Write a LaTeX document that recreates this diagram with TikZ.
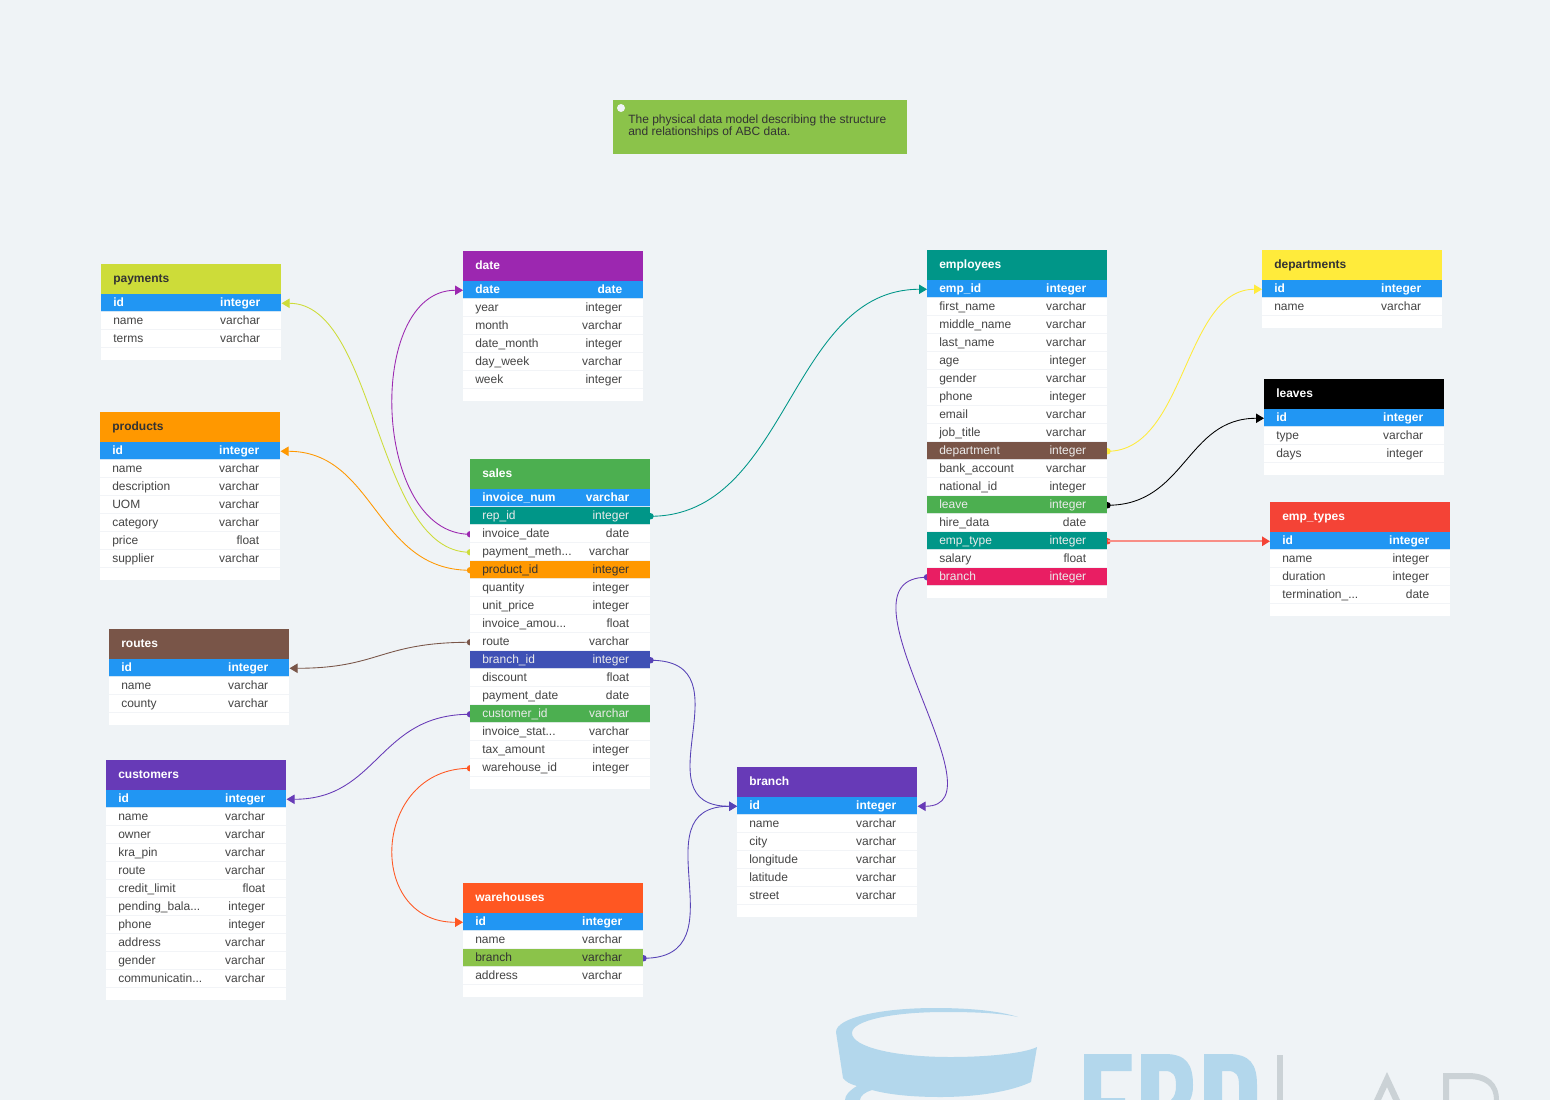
\documentclass[tikz,border=0pt]{standalone}
\usepackage{fontspec}
\setmainfont{Liberation Sans}
\usetikzlibrary{arrows.meta,calc}
\definecolor{bgc}{HTML}{EFF3F6}
\definecolor{ink}{HTML}{444444}
\definecolor{dark}{HTML}{333333}
\definecolor{sepc}{HTML}{F0F3F6}
\definecolor{logoblue}{HTML}{B3D7EC}
\definecolor{logogrey}{HTML}{CBD2D6}
\definecolor{cHdr}{HTML}{2196F3}
\definecolor{cTeal}{HTML}{009688}
\definecolor{cOrange}{HTML}{FF9800}
\definecolor{cIndigo}{HTML}{3F51B5}
\definecolor{cGreen}{HTML}{4CAF50}
\definecolor{cBrown}{HTML}{795548}
\definecolor{cPink}{HTML}{E91E63}
\definecolor{cLime}{HTML}{8BC34A}
\definecolor{cYLime}{HTML}{CDDC39}
\definecolor{cPurple}{HTML}{9C27B0}
\definecolor{cYellow}{HTML}{FFEB3B}
\definecolor{cRed}{HTML}{F44336}
\definecolor{cDPurple}{HTML}{673AB7}
\definecolor{cDOrange}{HTML}{FF5722}
\pgfdeclarelayer{under}
\pgfsetlayers{under,main}
\newcommand{\dd}{.\kern0pt.\kern0pt.}
\tikzset{
  x=0.75pt,y=-0.75pt,
  tabletitle/.style={anchor=north west,minimum width=135pt,minimum height=22.5pt,inner sep=0pt,font=\fontsize{9}{9}\selectfont\bfseries,text height=6.8pt,text depth=1.8pt},
  rowbox/.style={anchor=north west,minimum width=135pt,minimum height=13.5pt,inner sep=0pt,font=\fontsize{9}{9}\selectfont,text height=6pt,text depth=1.7pt},
  rp/.style={fill=white,text=ink},
  rh/.style={fill=cHdr,text=white,font=\fontsize{9}{9}\selectfont\bfseries},
  rteal/.style={fill=cTeal,text=white!92!black},
  rorange/.style={fill=cOrange,text=dark},
  rindigo/.style={fill=cIndigo,text=white!92!black},
  rgreen/.style={fill=cGreen,text=white!92!black},
  rbrown/.style={fill=cBrown,text=white!92!black},
  rpink/.style={fill=cPink,text=white!92!black},
  rlime/.style={fill=cLime,text=dark},
  sepline/.style={draw=sepc,line width=0.9pt,opacity=.85},
  conn/.style={line width=0.65pt,-{Triangle[length=6pt,width=7pt]}},
  paleconn/.style={draw=cRed!60,line width=1.4pt,-{Triangle[length=6pt,width=7pt,color=cRed]}},
}
% name, x, y, title, head colour, title colour, rows
\newcommand{\erdtable}[7]{%
  \node[tabletitle,fill=#5,text=#6] (#1-title) at (#2,#3) {\hbox to 135pt{\hspace{9pt}#4\hfill}};
  \foreach \rn/\rt/\rs [count=\ri] in {#7}{%
    \node[rowbox,style/.expanded=\rs] (#1-\ri) at ({#2},{#3+30+18*(\ri-1)}) {\hbox to 135pt{\hspace{9pt}\rn\hfill\rt\hspace{15.8pt}}};
    \draw[sepline] ([yshift=0.4pt]#1-\ri.south west) -- ([yshift=0.4pt]#1-\ri.south east);
    \xdef\lastrow{\ri}
  }
  \fill[white] ({#2},{#3+30+18*\lastrow}) rectangle ({#2+180},{#3+30+18*\lastrow+12});
}
% extra style, colour, start, start dx, end dx, end
\newcommand{\conn}[6][conn]{%
  \begin{pgfonlayer}{under}
    \fill[#2] (#3) circle (2.4pt);
    \draw[#2,#1] (#3) .. controls +(#4,0) and +(#5,0) .. (#6);
  \end{pgfonlayer}
}
\begin{document}
\begin{tikzpicture}
\useasboundingbox (0,0) rectangle (1550,1100);
\begin{pgfonlayer}{under}
  \fill[bgc] (0,0) rectangle (1550,1100);
  \begin{scope}
    \clip (0,0) rectangle (1550,1100);
    % logo: drum
    \fill[logoblue] (836,1032) .. controls (836,1018) and (880,1008) .. (935,1008)
      .. controls (970,1008) and (1000,1011) .. (1018,1017)
      .. controls (1000,1013) and (975,1012) .. (945,1012)
      .. controls (890,1012) and (852,1021) .. (852,1033)
      .. controls (852,1047) and (895,1057) .. (950,1057)
      .. controls (990,1057) and (1025,1053) .. (1037,1047)
      -- (1031,1082) .. controls (1010,1092) and (975,1097) .. (940,1097)
      .. controls (915,1097) and (890,1095) .. (872,1090)
      .. controls (865,1092) and (860,1096) .. (860,1100) -- (845,1100)
      .. controls (845,1095) and (850,1090) .. (857,1086)
      .. controls (850,1084) and (846,1082) .. (843,1078) -- cycle;
    % logo: letters
    \fill[logoblue] (1084,1100) -- (1084,1054) -- (1131.5,1054) -- (1131.5,1071) -- (1101,1071) -- (1101,1098) -- (1125,1098) -- (1125,1100) -- cycle;
    \fill[logoblue,even odd rule] (1141,1100) -- (1141,1054) -- (1165,1054) .. controls (1186,1054) and (1193,1064) .. (1193,1085) .. controls (1193,1092) and (1192,1096) .. (1190,1100) -- (1171,1100) .. controls (1175,1096) and (1176,1092) .. (1176,1085) .. controls (1176,1075) and (1173,1071) .. (1165,1071) -- (1159,1071) -- (1159,1100) -- cycle;
    \fill[logoblue] (1204,1100) -- (1204,1054) -- (1228,1054) .. controls (1250,1054) and (1257,1064) .. (1257,1085) -- (1257,1100) -- (1239,1100) -- (1239,1085) .. controls (1239,1075) and (1236,1071) .. (1228,1071) -- (1222,1071) -- (1222,1100) -- cycle;
    \fill[logogrey] (1277,1055) rectangle (1283,1100);
    \fill[logogrey] (1374,1100) -- (1387,1072) -- (1400,1100) -- (1393,1100) -- (1387,1087) -- (1381,1100) -- cycle;
    \fill[logogrey] (1443,1100) -- (1443,1073) -- (1468,1073) .. controls (1488,1073) and (1499,1083) .. (1499,1100) -- (1494,1100) .. controls (1494,1086) and (1485,1079) .. (1468,1079) -- (1449,1079) -- (1449,1100) -- cycle;
  \end{scope}
\end{pgfonlayer}

% note
\node[anchor=north west,fill=cLime,minimum width=220.5pt,minimum height=40.5pt,inner sep=0pt] (note) at (613,100) {};
\fill[bgc] (621,108) circle (3pt);
\node[anchor=north west,inner sep=0pt,text=dark,font=\fontsize{9}{9}\selectfont,align=left] (notetext) at (628,115) {The physical data model describing the structure\\and relationships of ABC data.};

\erdtable{payments}{101}{264}{payments}{cYLime}{dark}{id/integer/rh,name/varchar/rp,terms/varchar/rp}
\erdtable{date}{463}{251}{date}{cPurple}{white}{date/date/rh,year/integer/rp,month/varchar/rp,date\_month/integer/rp,day\_week/varchar/rp,week/integer/rp}
\erdtable{employees}{927}{250}{employees}{cTeal}{white}{emp\_id/integer/rh,first\_name/varchar/rp,middle\_name/varchar/rp,last\_name/varchar/rp,age/integer/rp,gender/varchar/rp,phone/integer/rp,email/varchar/rp,job\_title/varchar/rp,department/integer/rbrown,bank\_account/varchar/rp,national\_id/integer/rp,leave/integer/rgreen,hire\_data/date/rp,emp\_type/integer/rteal,salary/float/rp,branch/integer/rpink}
\erdtable{departments}{1262}{250}{departments}{cYellow}{dark}{id/integer/rh,name/varchar/rp}
\erdtable{leaves}{1264}{379}{leaves}{black}{white}{id/integer/rh,type/varchar/rp,days/integer/rp}
\erdtable{emptypes}{1270}{502}{emp\_types}{cRed}{white}{id/integer/rh,name/integer/rp,duration/integer/rp,termination\_\dd/date/rp}
\erdtable{products}{100}{412}{products}{cOrange}{dark}{id/integer/rh,name/varchar/rp,description/varchar/rp,UOM/varchar/rp,category/varchar/rp,price/float/rp,supplier/varchar/rp}
\erdtable{sales}{470}{459}{sales}{cGreen}{white}{invoice\_num/varchar/rh,rep\_id/integer/rteal,invoice\_date/date/rp,payment\_meth\dd/varchar/rp,product\_id/integer/rorange,quantity/integer/rp,unit\_price/integer/rp,invoice\_amou\dd/float/rp,route/varchar/rp,branch\_id/integer/rindigo,discount/float/rp,payment\_date/date/rp,customer\_id/varchar/rgreen,invoice\_stat\dd/varchar/rp,tax\_amount/integer/rp,warehouse\_id/integer/rp}
\erdtable{routes}{109}{629}{routes}{cBrown}{white}{id/integer/rh,name/varchar/rp,county/varchar/rp}
\erdtable{customers}{106}{760}{customers}{cDPurple}{white}{id/integer/rh,name/varchar/rp,owner/varchar/rp,kra\_pin/varchar/rp,route/varchar/rp,credit\_limit/float/rp,pending\_bala\dd/integer/rp,phone/integer/rp,address/varchar/rp,gender/varchar/rp,communicatin\dd/varchar/rp}
\erdtable{warehouses}{463}{883}{warehouses}{cDOrange}{white}{id/integer/rh,name/varchar/rp,branch/varchar/rlime,address/varchar/rp}
\erdtable{branch}{737}{767}{branch}{cDPurple}{white}{id/integer/rh,name/varchar/rp,city/varchar/rp,longitude/varchar/rp,latitude/varchar/rp,street/varchar/rp}

\conn{cTeal}{sales-2.east}{138}{-138}{employees-1.west}
\conn{cPurple}{sales-3.west}{-98}{-98}{date-1.west}
\conn{cYLime}{sales-4.west}{-95}{95}{payments-1.east}
\conn{cOrange}{sales-5.west}{-95}{95}{products-1.east}
\conn{cBrown}{sales-9.west}{-90}{90}{routes-1.east}
\conn{cIndigo!40!cDPurple}{sales-10.east}{100}{-100}{branch-1.west}
\conn{cDPurple}{sales-13.west}{-92}{92}{customers-1.east}
\conn{cDOrange}{sales-16.west}{-98}{-98}{warehouses-1.west}
\conn{cIndigo!40!cDPurple}{warehouses-3.east}{100}{-100}{branch-1.west}
\conn{cYellow}{employees-10.east}{78}{-78}{departments-1.west}
\conn{black}{employees-13.east}{78}{-78}{leaves-1.west}
\conn[paleconn]{cRed}{employees-15.east}{60}{-60}{emptypes-1.west}
\conn{cDPurple}{employees-17.west}{-100}{90}{branch-1.east}
\end{tikzpicture}
\end{document}
